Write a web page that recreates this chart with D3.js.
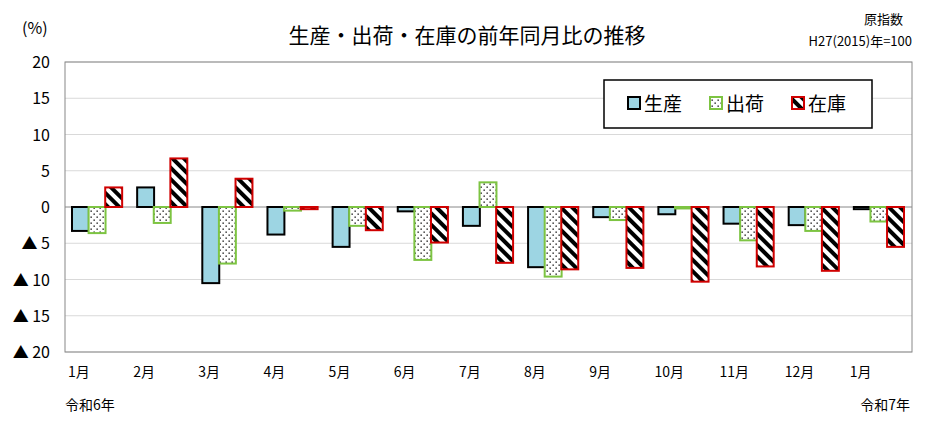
<!DOCTYPE html><html><head><meta charset="utf-8"><script src="https://cdn.jsdelivr.net/npm/d3@7"></script>
<style>body{margin:0;background:#fff}text{font-family:"Noto Sans CJK JP",sans-serif}</style></head><body>
<svg id="c" width="932" height="446"></svg>
<script>
const months=["1月","2月","3月","4月","5月","6月","7月","8月","9月","10月","11月","12月","1月"];
const seriesNames=["生産","出荷","在庫"];
const production=[-3.3,2.7,-10.5,-3.8,-5.5,-0.6,-2.6,-8.3,-1.4,-1.0,-2.3,-2.5,-0.3];
const shipment=[-3.6,-2.2,-7.8,-0.5,-2.6,-7.3,3.4,-9.6,-1.8,-0.2,-4.6,-3.3,-2.0];
const inventory=[2.7,6.7,3.9,-0.3,-3.2,-4.9,-7.7,-8.6,-8.4,-10.3,-8.2,-8.8,-5.5];
const yTicks=[20,15,10,5,0,-5,-10,-15,-20];
const svg=d3.select("#c");
const defs=svg.append("defs");
const dot=defs.append("pattern").attr("id","dots").attr("width",6).attr("height",6).attr("patternUnits","userSpaceOnUse");
dot.append("rect").attr("width",6).attr("height",6).attr("fill","#fff");
dot.append("rect").attr("x",0.5).attr("y",0.5).attr("width",1.3).attr("height",1.3).attr("fill","#000");
dot.append("rect").attr("x",3.5).attr("y",3.5).attr("width",1.3).attr("height",1.3).attr("fill","#000");
const st=defs.append("pattern").attr("id","stripes").attr("width",8).attr("height",8).attr("patternUnits","userSpaceOnUse").attr("patternTransform","rotate(-45)");
st.append("rect").attr("width",8).attr("height",8).attr("fill","#fff");
st.append("rect").attr("width",4).attr("height",8).attr("fill","#000");
const L=65,R=912,T=62,B=352;
const x=d3.scaleBand().domain(d3.range(13)).range([L,R]);
const y=d3.scaleLinear().domain([-20,20]).range([B,T]);
svg.append("g").selectAll("line").data(yTicks).join("line").attr("x1",L).attr("x2",R).attr("y1",d=>y(d)).attr("y2",d=>y(d)).attr("stroke",d=>d===0?"#888":"#d9d9d9");
svg.append("rect").attr("x",L).attr("y",T).attr("width",R-L).attr("height",B-T).attr("fill","none").attr("stroke","#888");
svg.append("g").selectAll("text").data(yTicks).join("text").attr("x",50).attr("y",d=>y(d)+6).attr("text-anchor","end").attr("font-size",16)
 .text(d=>d<0?"▲ "+(-d):d);
const sub=d3.scaleBand().domain([0,1,2]).range([7,x.bandwidth()-7]).paddingInner(-0.08);
const data=[production,shipment,inventory];
const fills=["#9dd5e3","url(#dots)","url(#stripes)"];
const strokes=["#000","#7dc442","#d00000"];
data.forEach((arr,s)=>{
 svg.append("g").selectAll("rect").data(arr).join("rect")
 .attr("x",(d,i)=>x(i)+sub(s)).attr("width",sub.bandwidth()-1)
 .attr("y",d=>y(Math.max(0,d))).attr("height",d=>Math.abs(y(d)-y(0)))
 .attr("fill",fills[s]).attr("stroke",strokes[s]).attr("stroke-width",2);
});
svg.append("g").selectAll("text").data(months).join("text").attr("x",(d,i)=>x(i)+3).attr("y",377).attr("font-size",14).text(d=>d);
svg.append("text").attr("x",65).attr("y",410).attr("font-size",14).text("令和6年");
svg.append("text").attr("x",910).attr("y",410).attr("text-anchor","end").attr("font-size",14).text("令和7年");
svg.append("text").attr("x",467).attr("y",43).attr("text-anchor","middle").attr("font-size",21).text("生産・出荷・在庫の前年同月比の推移");
svg.append("text").attr("x",22).attr("y",34).attr("font-size",16).text("(%)");
svg.append("text").attr("x",903).attr("y",24).attr("text-anchor","end").attr("font-size",13).text("原指数");
svg.append("text").attr("x",912).attr("y",46).attr("text-anchor","end").attr("font-size",13).text("H27(2015)年=100");
const lg=svg.append("g");
lg.append("rect").attr("x",604).attr("y",80).attr("width",268).attr("height",48).attr("fill","#fff").attr("stroke","#000").attr("stroke-width",1.5);
seriesNames.forEach((n,i)=>{
 const gx=628+i*82;
 lg.append("rect").attr("x",gx).attr("y",97).attr("width",12).attr("height",12).attr("fill",fills[i]).attr("stroke",strokes[i]).attr("stroke-width",2);
 lg.append("text").attr("x",gx+16).attr("y",111).attr("font-size",19).text(n);
});
</script></body></html>
